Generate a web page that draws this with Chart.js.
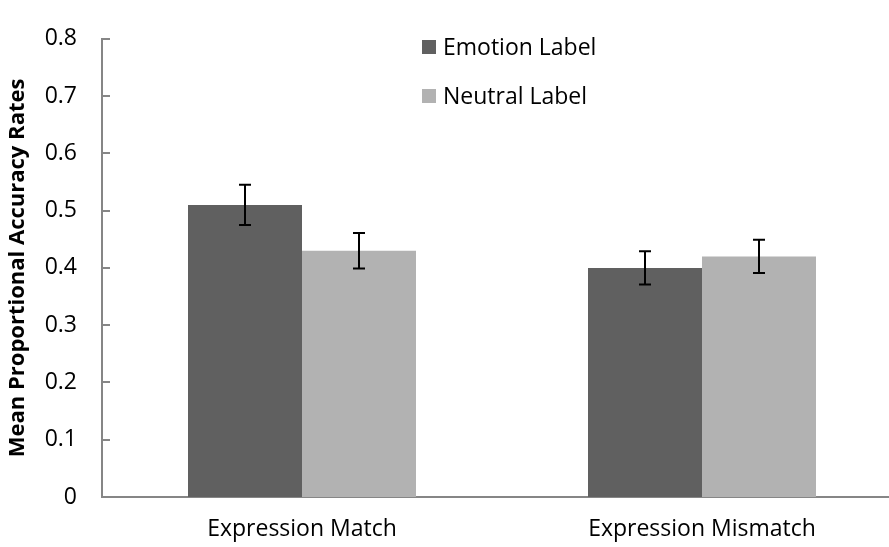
<!DOCTYPE html>
<html>
<head>
<meta charset="utf-8">
<script src="https://cdn.jsdelivr.net/npm/chart.js@4"></script>
<style>
  html, body { margin: 0; padding: 0; background: #fff; }
  #wrap { width: 889px; height: 547px; overflow: hidden; position: relative; }
  #wrap canvas { position: absolute; left: 0; top: 0; }
</style>
</head>
<body>
<div id="wrap"><canvas id="accChart" width="920" height="547"></canvas></div>
<script>
const categories = ["Expression Match", "Expression Mismatch"];
const emotionValues = [0.51, 0.40];
const emotionErrors = [0.035, 0.029];
const neutralValues = [0.43, 0.42];
const neutralErrors = [0.031, 0.029];
const yTicks = [0, 0.1, 0.2, 0.3, 0.4, 0.5, 0.6, 0.7, 0.8];

const FONT = "Open Sans";
const AXIS_GREY = "#868686";

// error bars, drawn from each bar's x and the y scale
const errorBars = {
  id: "errorBars",
  afterDatasetsDraw(chart) {
    const ctx = chart.ctx;
    const y = chart.scales.y;
    ctx.save();
    ctx.strokeStyle = "#000";
    ctx.lineWidth = 2;
    chart.data.datasets.forEach((ds, di) => {
      chart.getDatasetMeta(di).data.forEach((bar, i) => {
        const v = ds.data[i], e = ds.errors[i];
        const top = y.getPixelForValue(v + e);
        const bot = y.getPixelForValue(v - e);
        ctx.beginPath();
        ctx.moveTo(bar.x, top); ctx.lineTo(bar.x, bot);
        ctx.moveTo(bar.x - 6, top); ctx.lineTo(bar.x + 6, top);
        ctx.moveTo(bar.x - 6, bot); ctx.lineTo(bar.x + 6, bot);
        ctx.stroke();
      });
    });
    ctx.restore();
  }
};

// tick marks pointing into the plot, like the original
const innerTicks = {
  id: "innerTicks",
  afterDraw(chart) {
    const ctx = chart.ctx;
    const y = chart.scales.y;
    const x0 = chart.chartArea.left;
    ctx.save();
    ctx.strokeStyle = AXIS_GREY;
    ctx.lineWidth = 2;
    y.ticks.forEach(t => {
      if (t.value === 0) return;
      const py = Math.round(y.getPixelForValue(t.value));
      ctx.beginPath();
      ctx.moveTo(x0, py); ctx.lineTo(x0 + 8, py);
      ctx.stroke();
    });
    ctx.restore();
  }
};

// legend inside the plot area
const boxLegend = {
  id: "boxLegend",
  afterDraw(chart) {
    const ctx = chart.ctx;
    ctx.save();
    ctx.font = "23px " + FONT;
    ctx.textBaseline = "middle";
    chart.data.datasets.forEach((ds, i) => {
      const cy = 47 + i * 49;
      ctx.fillStyle = ds.backgroundColor;
      ctx.fillRect(422, cy - 7, 14, 14);
      ctx.fillStyle = "#000";
      ctx.fillText(ds.label, 443, cy + 1);
    });
    ctx.restore();
  }
};

new Chart(document.getElementById("accChart"), {
  type: "bar",
  data: {
    labels: categories,
    datasets: [
      { label: "Emotion Label", data: emotionValues, errors: emotionErrors,
        backgroundColor: "#606060", borderWidth: 0 },
      { label: "Neutral Label", data: neutralValues, errors: neutralErrors,
        backgroundColor: "#b2b2b2", borderWidth: 0 }
    ]
  },
  options: {
    responsive: false,
    animation: false,
    layout: { padding: { left: 0, right: 18, top: 18, bottom: 0 } },
    plugins: {
      legend: { display: false },
      tooltip: { enabled: false }
    },
    datasets: { bar: { categoryPercentage: 0.57, barPercentage: 1.0 } },
    scales: {
      x: {
        grid: { display: false, drawTicks: false },
        border: { color: AXIS_GREY, width: 2 },
        ticks: { color: "#000", font: { family: FONT, size: 23 }, padding: 19, maxRotation: 0 },
        afterFit(scale) { scale.height = 50; }
      },
      y: {
        min: 0, max: 0.8,
        afterBuildTicks(scale) { scale.ticks = yTicks.map(v => ({ value: v })); },
        grid: { display: false, drawTicks: false },
        border: { color: AXIS_GREY, width: 2 },
        ticks: {
          color: "#000", font: { family: FONT, size: 23 }, padding: 25,
          callback: v => String(v)
        },
        title: {
          display: true, text: "Mean Proportional Accuracy Rates", color: "#000",
          font: { family: FONT, size: 22, weight: "bold" }, padding: { top: 5, bottom: 0 }
        },
        afterFit(scale) { scale.width = 102; }
      }
    }
  },
  plugins: [errorBars, innerTicks, boxLegend]
});
</script>
</body>
</html>
